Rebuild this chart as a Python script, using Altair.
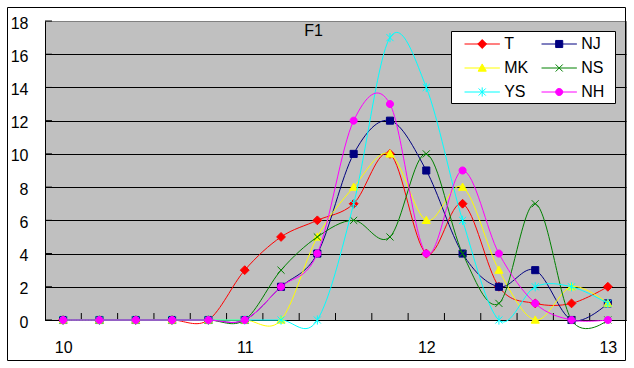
import altair as alt
import pandas as pd

FONT = "Liberation Sans"

# ---- data ----
x_vals = [10.0, 10.2, 10.4, 10.6, 10.8, 11.0, 11.2, 11.4, 11.6, 11.8,
          12.0, 12.2, 12.4, 12.6, 12.8, 13.0]
series_names = ["T", "NJ", "MK", "NS", "YS", "NH"]
T_vals = [0, 0, 0, 0, 0, 3, 5, 6, 7, 10, 4, 7, 2, 1, 1, 2]
NJ_vals = [0, 0, 0, 0, 0, 0, 2, 4, 10, 12, 9, 4, 2, 3, 0, 1]
MK_vals = [0, 0, 0, 0, 0, 0, 0, 5, 8, 10, 6, 8, 3, 0, 2, 1]
NS_vals = [0, 0, 0, 0, 0, 0, 3, 5, 6, 5, 10, 4, 1, 7, 0, 0]
YS_vals = [0, 0, 0, 0, 0, 0, 0, 0, 7, 17, 14, 6, 0, 2, 2, 1]
NH_vals = [0, 0, 0, 0, 0, 0, 2, 4, 12, 13, 4, 9, 4, 1, 0, 0]
colors = ["#FF0000", "#000080", "#FFFF00", "#008000", "#00FFFF", "#FF00FF"]
y_ticks = [0, 2, 4, 6, 8, 10, 12, 14, 16, 18]
x_labels = [10, 11, 12, 13]
x_ticks = [10.1, 10.3, 10.5, 10.7, 10.9, 11.1, 11.3, 11.5, 11.7, 11.9,
           12.1, 12.3, 12.5, 12.7, 12.9]
title_text = "F1"

values = {"T": T_vals, "NJ": NJ_vals, "MK": MK_vals,
          "NS": NS_vals, "YS": YS_vals, "NH": NH_vals}
color_of = dict(zip(series_names, colors))
rows = []
for s in series_names:
    for xv, yv in zip(x_vals, values[s]):
        rows.append({"series": s, "x": xv, "v": yv})
df = pd.DataFrame(rows)
tick_df = pd.DataFrame({"x": x_ticks})
ytick_df = pd.DataFrame({"v": y_ticks})

marker_paths = {
    "T": "M0,-1.25L1.25,0L0,1.25L-1.25,0Z",
    "NJ": "M-1,-1L1,-1L1,1L-1,1Z",
    "MK": "M0,-1.15L1.15,0.9L-1.15,0.9Z",
    "NS": "M-1,-1L1,1M-1,1L1,-1",
    "YS": "M-1,-1L1,1M-1,1L1,-1M0,-1.3L0,1.3",
    "NH": "M1,0A1,1,0,1,1,-1,0A1,1,0,1,1,1,0Z",
}
# legend is filled column by column: left column T, MK, YS; right column NJ, NS, NH
legend_order = ["T", "MK", "YS", "NJ", "NS", "NH"]
legend_colors = [color_of[s] for s in legend_order]
legend_paths = ["M-5,0L5,0" + marker_paths[s] for s in legend_order]

W, H = 581, 299
X_MIN, X_MAX = 9.9, 13.1
TICK_LEN_Y = 0.42    # inner tick length of the x axis, in y units (about 7 px)
TICK_LEN_X = 0.0385  # inner tick length of the y axis, in x units (about 7 px)
xscale = alt.Scale(domain=[X_MIN, X_MAX], nice=False, zero=False)
yscale = alt.Scale(domain=[0, 18], nice=False, zero=True)

bottom_axis = alt.Axis(values=x_labels, format="d", grid=False, ticks=False,
                       tickSize=0, domainColor="black", domainWidth=1,
                       labelFont=FONT, labelFontSize=16, labelColor="black",
                       labelPadding=19, labelOverlap=False, title=None)
left_axis = alt.Axis(values=y_ticks, grid=True,
                     gridColor={"condition": {"test": "datum.value === 18", "value": "#808080"},
                                "value": "black"},
                     gridWidth=1, ticks=False, tickSize=0, domainColor="black",
                     labelFont=FONT, labelFontSize=16, labelColor="black",
                     labelPadding=17, labelOffset=2, labelOverlap=False, title=None)

# invisible layer that carries the axes
axis_layer = alt.Chart(df).mark_line(opacity=0).encode(
    x=alt.X("x:Q", scale=xscale, axis=bottom_axis),
    y=alt.Y("v:Q", scale=yscale, axis=left_axis),
    detail="series:N")

# inner tick marks of the category axis
tick_layer = alt.Chart(tick_df).mark_rule(color="black", strokeWidth=1).encode(
    x=alt.X("x:Q", scale=xscale, axis=None),
    y=alt.YDatum(0, scale=yscale, axis=None),
    y2=alt.Y2Datum(TICK_LEN_Y))

# inner tick marks of the value axis (only the top one shows above the grid)
ytick_layer = alt.Chart(ytick_df).mark_rule(color="black", strokeWidth=1).encode(
    y=alt.Y("v:Q", scale=yscale, axis=None),
    x=alt.XDatum(X_MIN, scale=xscale, axis=None),
    x2=alt.X2Datum(X_MIN + TICK_LEN_X))

layers = []
for i, s in enumerate(series_names):
    sub = alt.Chart(df).transform_filter(alt.datum.series == s)
    xe = alt.X("x:Q", scale=xscale, axis=None)
    ye = alt.Y("v:Q", scale=yscale, axis=None)
    line = sub.mark_line(interpolate="cardinal", tension=0, strokeWidth=1,
                         color=colors[i]).encode(x=xe, y=ye)
    pts = sub.mark_point(filled=True, opacity=1, size=50, strokeWidth=1,
                         shape=marker_paths[s], fill=colors[i],
                         stroke=colors[i]).encode(x=xe, y=ye)
    layers += [line, pts]

# legend box (drawn as a plain frame under the legend entries)
legend_box = alt.Chart(pd.DataFrame({"a": [0]})).mark_rect(
    fill="white", stroke="black", strokeWidth=1).encode(
    x=alt.value(406.5), x2=alt.value(570.5), y=alt.value(10.5), y2=alt.value(82.5))

leg_def = alt.Legend(title=None, orient="none", legendX=416, legendY=15,
                     columns=2, symbolSize=50, symbolStrokeWidth=1,
                     symbolOffset=13.2, symbolOpacity=1,
                     labelFont=FONT, labelFontSize=16,
                     labelColor="black", labelOffset=14, columnPadding=9,
                     rowPadding=8, padding=0, labelLimit=0)
legend_layer = alt.Chart(df).transform_filter("datum.v < -1000").mark_point(
    filled=True, opacity=1, size=50, strokeWidth=1).encode(
    x=alt.X("x:Q", scale=xscale, axis=None),
    y=alt.Y("v:Q", scale=yscale, axis=None),
    fill=alt.Fill("series:N", scale=alt.Scale(domain=legend_order, range=legend_colors), legend=leg_def),
    stroke=alt.Stroke("series:N", scale=alt.Scale(domain=legend_order, range=legend_colors), legend=leg_def),
    shape=alt.Shape("series:N", scale=alt.Scale(domain=legend_order, range=legend_paths), legend=leg_def),
)

frame = alt.Chart(pd.DataFrame({"a": [0]})).mark_rect(
    fill=None, stroke="black", strokeWidth=1).encode(
    x=alt.value(-37.5), x2=alt.value(580.5), y=alt.value(-13.5), y2=alt.value(339.5))

chart = alt.layer(axis_layer, tick_layer, ytick_layer, frame, *layers,
                  legend_box, legend_layer).resolve_axis(
    x="independent", y="independent").properties(
    width=W, height=H,
    autosize=alt.AutoSizeParams(type="none"),
    padding={"left": 45, "top": 21, "right": 8, "bottom": 48},
    background="white",
    title=alt.TitleParams(title_text, font=FONT, fontSize=16, fontWeight="normal",
                          color="black", anchor="middle", frame="group",
                          baseline="middle", offset=0, dx=-22, dy=40),
).configure_view(fill="#C0C0C0", stroke="#808080", strokeWidth=1)

chart.save("out.html", embed_options={"renderer": "svg", "actions": False})
